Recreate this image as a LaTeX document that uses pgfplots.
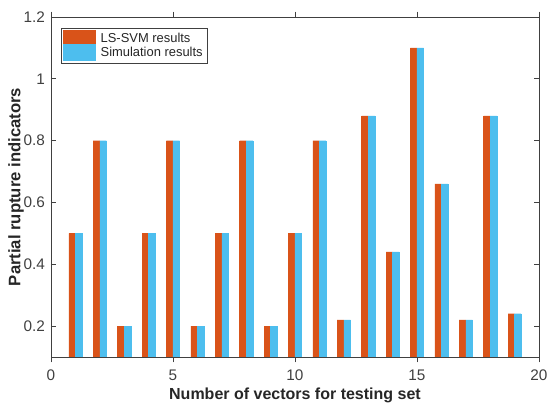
\documentclass[border=0pt]{standalone}
\usepackage{pgfplots}
\pgfplotsset{compat=1.18}
\usepackage{fontspec}
\setmainfont{Liberation Sans}
\definecolor{mOrange}{RGB}{217,83,25}
\definecolor{mBlue}{RGB}{77,190,238}
\definecolor{txt}{RGB}{38,38,38}
\definecolor{axc}{RGB}{64,64,64}
\begin{document}
\begin{tikzpicture}
\begin{axis}[
  scale only axis,
  width=366pt, height=255pt,
  xmin=0, xmax=20, ymin=0.1, ymax=1.2,
  xtick={0,5,10,15,20},
  ytick={0.2,0.4,0.6,0.8,1,1.2},
  /pgf/number format/assume math mode=true,
  tick label style={font=\fontsize{11.5}{13}\selectfont, text=axc},
  xticklabel style={yshift=-2pt},
  yticklabel style={xshift=-1pt},
  xlabel={Number of vectors for testing set},
  ylabel={Partial rupture indicators},
  xlabel style={font=\bfseries\fontsize{12}{14}\selectfont, text=txt, yshift=1pt},
  ylabel style={font=\bfseries\fontsize{12.5}{14}\selectfont, text=txt, yshift=-7pt},
  tick align=inside,
  major tick length=4pt,
  axis line style={axc, line width=0.5pt},
  tick style={axc, line width=0.5pt},
  legend style={font=\fontsize{9.7}{11}\selectfont, draw=axc, line width=0.4pt, inner sep=1.5pt, row sep=-2pt, column sep=2pt, at={(0.02,0.968)}, anchor=north west, text=txt},
  legend cell align=left,
  ybar,
  bar width=0.27,
]
\addplot[fill=mOrange, draw=mOrange, line width=0.2pt, bar shift=-0.135,
  legend image code/.code={\path (-1pt,-5.5pt) rectangle (23pt,6pt); \fill[mOrange] (0pt,-5.5pt) rectangle (22pt,6pt);}] coordinates {
(1,0.5) (2,0.8) (3,0.2) (4,0.5) (5,0.8) (6,0.2) (7,0.5) (8,0.8) (9,0.2) (10,0.5)
(11,0.8) (12,0.22) (13,0.88) (14,0.44) (15,1.1) (16,0.66) (17,0.22) (18,0.88) (19,0.24)};
\addlegendentry{LS-SVM results}
\addplot[fill=mBlue, draw=mBlue, line width=0.2pt, bar shift=0.135,
  legend image code/.code={\path (-1pt,-5.5pt) rectangle (23pt,6pt); \fill[mBlue] (0pt,-5.5pt) rectangle (22pt,6pt);}] coordinates {
(1,0.5) (2,0.8) (3,0.2) (4,0.5) (5,0.8) (6,0.2) (7,0.5) (8,0.8) (9,0.2) (10,0.5)
(11,0.8) (12,0.22) (13,0.88) (14,0.44) (15,1.1) (16,0.66) (17,0.22) (18,0.88) (19,0.24)};
\addlegendentry{Simulation results}
\end{axis}
\pgfresetboundingbox
\path (-38.25pt,-37.5pt) rectangle (372pt,267.75pt);
\end{tikzpicture}
\end{document}
